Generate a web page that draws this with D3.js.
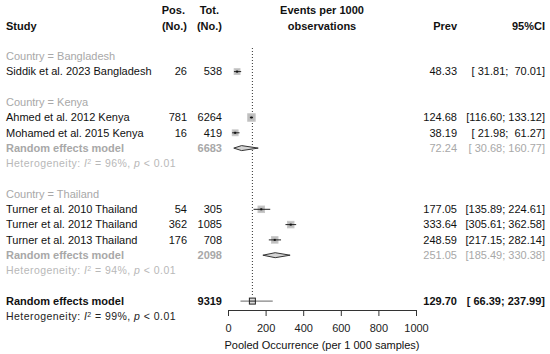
<!DOCTYPE html>
<html>
<head>
<meta charset="utf-8">
<style>
body { margin: 0; background: #fff; }
svg { font-family: "Liberation Sans", Arial, sans-serif; }
text { white-space: pre; }
.hdr { font-weight: bold; font-size: 11px; fill: #111; }
.lbl { font-size: 11px; fill: #111; }
.grp { font-size: 11px; fill: #a8a8a8; }
.het { font-size: 10.5px; letter-spacing: 0.45px; }
.axis text { font-size: 11px; fill: #222; }
</style>
</head>
<body>
<svg width="550" height="354"></svg>
<script src="https://cdn.jsdelivr.net/npm/d3@7"></script>
<script>

// study level data
var studies = ["Siddik et al. 2023 Bangladesh", "Ahmed et al. 2012 Kenya", "Mohamed et al. 2015 Kenya",
               "Turner et al. 2010 Thailand", "Turner et al. 2012 Thailand", "Turner et al. 2013 Thailand"]
var country = ["Bangladesh", "Kenya", "Kenya", "Thailand", "Thailand", "Thailand"]
var pos = [26, 781, 16, 54, 362, 176]
var tot = [538, 6264, 419, 305, 1085, 708]
var prev = [48.33, 124.68, 38.19, 177.05, 333.64, 248.59]
var lower = [31.81, 116.60, 21.98, 135.89, 305.61, 217.15]
var upper = [70.01, 133.12, 61.27, 224.61, 362.58, 282.14]
var weight = [12, 20, 12, 15, 15, 15] // estimated from square sizes

// subgroups
var countries = ["Bangladesh", "Kenya", "Thailand"]
var subTot = [null, 6683, 2098]
var subPrev = [null, 72.24, 251.05]
var subLower = [null, 30.68, 185.49]
var subUpper = [null, 160.77, 330.38]
var subI2 = [null, 96, 94]

// overall
var allTot = 9319, allPrev = 129.70, allLower = 66.39, allUpper = 237.99, allI2 = 99
var xTicks = [0, 200, 400, 600, 800, 1000]

var svg = d3.select("svg")
var x = d3.scaleLinear().domain([0, 1000]).range([228, 416])
var sq = d3.scaleSqrt().domain([0, 20]).range([0, 7.5])

var row0 = 25.7, rowH = 15.3
function ry(i) { return row0 + i * rowH }

var colStudy = 6, colPos = 187, colTot = 222, colPrev = 457, colCI = 545

function pad(v) { var s = v.toFixed(2); while (s.length < 6) s = " " + s; return s }
function ci(l, u) { return "[" + pad(l) + "; " + pad(u) + "]" }

// headers
svg.append("text").attr("class", "hdr").attr("x", colStudy).attr("y", ry(0)).attr("dy", "0.35em").text("Study")
svg.append("text").attr("class", "hdr").attr("x", colPos - 2).attr("y", 10.5).attr("dy", "0.35em").attr("text-anchor", "end").text("Pos.")
svg.append("text").attr("class", "hdr").attr("x", colPos).attr("y", ry(0)).attr("dy", "0.35em").attr("text-anchor", "end").text("(No.)")
svg.append("text").attr("class", "hdr").attr("x", colTot - 3).attr("y", 10.5).attr("dy", "0.35em").attr("text-anchor", "end").text("Tot.")
svg.append("text").attr("class", "hdr").attr("x", colTot).attr("y", ry(0)).attr("dy", "0.35em").attr("text-anchor", "end").text("(No.)")
svg.append("text").attr("class", "hdr").attr("x", 322).attr("y", 10.5).attr("dy", "0.35em").attr("text-anchor", "middle").text("Events per 1000")
svg.append("text").attr("class", "hdr").attr("x", 322).attr("y", ry(0)).attr("dy", "0.35em").attr("text-anchor", "middle").text("observations")
svg.append("text").attr("class", "hdr").attr("x", colPrev).attr("y", ry(0)).attr("dy", "0.35em").attr("text-anchor", "end").text("Prev")
svg.append("text").attr("class", "hdr").attr("x", colCI).attr("y", ry(0)).attr("dy", "0.35em").attr("text-anchor", "end").text("95%CI")

// build row list
var rows = []
var r = 2
countries.forEach(function(c, gi) {
  rows.push({type: "group", name: "Country = " + c, row: r++})
  studies.forEach(function(s, i) {
    if (country[i] === c) rows.push({type: "study", i: i, row: r++})
  })
  if (subPrev[gi] !== null) {
    rows.push({type: "sub", gi: gi, row: r++})
    rows.push({type: "subhet", gi: gi, row: r++})
  }
  r++
})
var overallRow = r
var lineTop = 48

// reference line at overall estimate
svg.append("line")
  .attr("x1", x(allPrev)).attr("x2", x(allPrev))
  .attr("y1", lineTop).attr("y2", ry(overallRow) - 4)
  .attr("stroke", "#333").attr("stroke-width", 1).attr("stroke-dasharray", "1,2")

function hetText(sel, i2, col) {
  var t = sel.append("text").attr("class", "het").attr("fill", col).attr("dy", "0.35em")
  t.append("tspan").text("Heterogeneity: ")
  t.append("tspan").attr("font-style", "italic").text("I")
  t.append("tspan").attr("font-size", "7px").attr("dy", "-3.5").text("2")
  t.append("tspan").attr("dy", "3.5").text(" = " + i2 + "%, ")
  t.append("tspan").attr("font-style", "italic").text("p")
  t.append("tspan").text(" < 0.01")
  return t
}

function diamond(g, l, m, u, y, h, fill) {
  g.append("path")
    .attr("d", "M" + x(l) + "," + y + "L" + x(m) + "," + (y - h) + "L" + x(u) + "," + y + "L" + x(m) + "," + (y + h) + "Z")
    .attr("fill", fill).attr("stroke", "#333").attr("stroke-width", 1)
}

rows.forEach(function(d) {
  var y = ry(d.row)
  if (d.type === "group") {
    svg.append("text").attr("class", "grp").attr("x", colStudy).attr("y", y).attr("dy", "0.35em").text(d.name)
  } else if (d.type === "study") {
    var i = d.i
    svg.append("text").attr("class", "lbl").attr("x", colStudy).attr("y", y).attr("dy", "0.35em").text(studies[i])
    svg.append("text").attr("class", "lbl").attr("x", colPos).attr("y", y).attr("dy", "0.35em").attr("text-anchor", "end").text(pos[i])
    svg.append("text").attr("class", "lbl").attr("x", colTot).attr("y", y).attr("dy", "0.35em").attr("text-anchor", "end").text(tot[i])
    svg.append("text").attr("class", "lbl").attr("x", colPrev).attr("y", y).attr("dy", "0.35em").attr("text-anchor", "end").text(prev[i].toFixed(2))
    svg.append("text").attr("class", "lbl").attr("x", colCI).attr("y", y).attr("dy", "0.35em").attr("text-anchor", "end").text(ci(lower[i], upper[i]))
    var s = sq(weight[i])
    svg.append("rect")
      .attr("x", x(prev[i]) - s / 2).attr("y", y - s / 2)
      .attr("width", s).attr("height", s)
      .attr("fill", "#bdbdbd").attr("stroke", "#c8c8c8")
    svg.append("line")
      .attr("x1", x(lower[i])).attr("x2", x(upper[i]))
      .attr("y1", y).attr("y2", y)
      .attr("stroke", "#222").attr("stroke-width", 1)
    svg.append("rect")
      .attr("x", x(prev[i]) - 1).attr("y", y - 1).attr("width", 2).attr("height", 2).attr("fill", "#111")
  } else if (d.type === "sub") {
    var gi = d.gi
    svg.append("text").attr("class", "grp").attr("font-weight", "bold").attr("x", colStudy).attr("y", y).attr("dy", "0.35em").text("Random effects model")
    svg.append("text").attr("class", "grp").attr("font-weight", "bold").attr("x", colTot).attr("y", y).attr("dy", "0.35em").attr("text-anchor", "end").text(subTot[gi])
    svg.append("text").attr("class", "grp").attr("x", colPrev).attr("y", y).attr("dy", "0.35em").attr("text-anchor", "end").text(subPrev[gi].toFixed(2))
    svg.append("text").attr("class", "grp").attr("x", colCI).attr("y", y).attr("dy", "0.35em").attr("text-anchor", "end").text(ci(subLower[gi], subUpper[gi]))
    diamond(svg, subLower[gi], subPrev[gi], subUpper[gi], y, 2.5, "#d4d4d4")
  } else if (d.type === "subhet") {
    hetText(svg, subI2[d.gi], "#b8b8b8").attr("x", colStudy).attr("y", y)
  }
})

// overall
var yo = ry(overallRow)
svg.append("text").attr("class", "hdr").attr("x", colStudy).attr("y", yo).attr("dy", "0.35em").text("Random effects model")
svg.append("text").attr("class", "hdr").attr("x", colTot).attr("y", yo).attr("dy", "0.35em").attr("text-anchor", "end").text(allTot)
svg.append("text").attr("class", "hdr").attr("x", colPrev).attr("y", yo).attr("dy", "0.35em").attr("text-anchor", "end").text(allPrev.toFixed(2))
svg.append("text").attr("class", "hdr").attr("x", colCI).attr("y", yo).attr("dy", "0.35em").attr("text-anchor", "end").text(ci(allLower, allUpper))
svg.append("line")
  .attr("x1", x(allLower)).attr("x2", x(allUpper)).attr("y1", yo).attr("y2", yo)
  .attr("stroke", "#666").attr("stroke-width", 1)
svg.append("rect")
  .attr("x", x(allPrev) - 3).attr("y", yo - 3).attr("width", 6).attr("height", 6)
  .attr("fill", "#ddd").attr("stroke", "#222").attr("stroke-width", 1)
svg.append("line")
  .attr("x1", x(allPrev) - 3).attr("x2", x(allPrev) + 3).attr("y1", yo).attr("y2", yo)
  .attr("stroke", "#222")
hetText(svg, allI2, "#222").attr("x", colStudy).attr("y", ry(overallRow + 1))

// axis
var axisY = 310
var gx = svg.append("g").attr("class", "axis")
  .attr("transform", "translate(0," + axisY + ")")
  .call(d3.axisBottom(x).tickValues(xTicks).tickFormat(d3.format("d"))
    .tickSize(6).tickSizeOuter(0).tickPadding(8))
gx.select(".domain").attr("stroke", "#333")
gx.selectAll(".tick line").attr("stroke", "#333")

svg.append("text").attr("class", "lbl").attr("x", 322).attr("y", 345).attr("dy", "0.35em")
  .attr("text-anchor", "middle").attr("fill", "#222").text("Pooled Occurrence (per 1 000 samples)")

</script>
</body>
</html>
